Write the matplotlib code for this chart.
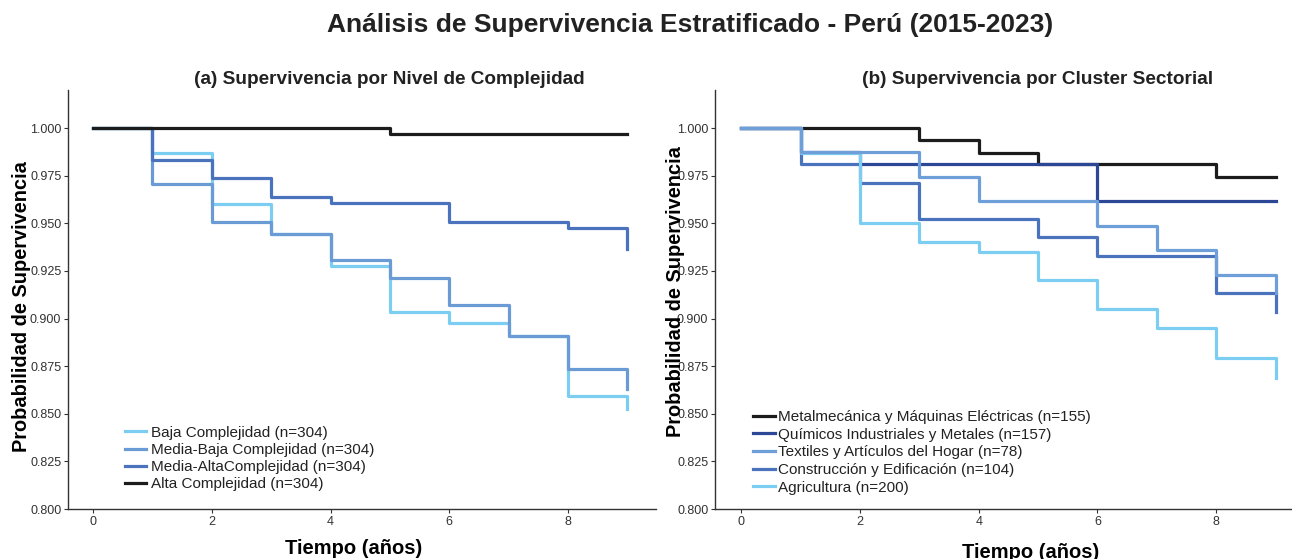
import matplotlib
matplotlib.use("Agg")
import matplotlib.pyplot as plt

plt.rcParams['font.family'] = ['Liberation Sans', 'DejaVu Sans']
plt.rcParams['text.color'] = '#222222'

# (a) complejidad: tiempos de evento y supervivencia (step post)
comp_labels = ['Baja Complejidad (n=304)', 'Media-Baja Complejidad (n=304)',
               'Media-AltaComplejidad (n=304)', 'Alta Complejidad (n=304)']
comp_colors = ['#7ccdf2', '#6b9bd5', '#4a72bd', '#1c1c1c']
comp_t = [
    [0, 1, 2, 3, 4, 5, 6, 7, 8, 9],
    [0, 1, 2, 3, 4, 5, 6, 7, 8, 9],
    [0, 1, 2, 3, 4, 6, 8, 9],
    [0, 5, 9],
]
comp_s = [
    [1.000, 0.987, 0.9603, 0.9443, 0.9278, 0.9035, 0.8974, 0.8908, 0.8594, 0.8524],
    [1.000, 0.9706, 0.9506, 0.9443, 0.9308, 0.9212, 0.9073, 0.8908, 0.8733, 0.8628],
    [1.000, 0.9835, 0.9736, 0.9638, 0.9607, 0.9508, 0.9478, 0.9365],
    [1.000, 0.9967, 0.9967],
]

# (b) cluster sectorial
clus_labels = ['Metalmecánica y Máquinas Eléctricas (n=155)',
               'Químicos Industriales y Metales (n=157)',
               'Textiles y Artículos del Hogar (n=78)',
               'Construcción y Edificación (n=104)',
               'Agricultura (n=200)']
clus_colors = ['#1c1c1c', '#2c4796', '#6f9fd8', '#4a72bd', '#7ccdf2']
clus_t = [
    [0, 3, 4, 5, 8, 9],
    [0, 1, 2, 6, 9],
    [0, 1, 3, 4, 6, 7, 8, 9],
    [0, 1, 2, 3, 5, 6, 8, 9],
    [0, 1, 2, 3, 4, 5, 6, 7, 8, 9],
]
clus_s = [
    [1.000, 0.9935, 0.9871, 0.9810, 0.9742, 0.9742],
    [1.000, 0.9873, 0.9809, 0.9617, 0.9617],
    [1.000, 0.9872, 0.9744, 0.9615, 0.9487, 0.9359, 0.9231, 0.9135],
    [1.000, 0.9809, 0.9711, 0.9523, 0.9426, 0.9330, 0.9133, 0.9035],
    [1.000, 0.987, 0.950, 0.940, 0.935, 0.920, 0.905, 0.895, 0.8795, 0.869],
]
clus_z = [2, 3, 6, 4, 5]

W, H = 1292, 559
fig = plt.figure(figsize=(W / 100, H / 100), dpi=100)

def px(x0, y_top, w, h):
    return [x0 / W, (H - y_top - h) / H, w / W, h / H]

ax1 = fig.add_axes(px(68, 90, 588, 419))
ax2 = fig.add_axes(px(715, 90, 588, 419))


def style(ax, xmin):
    ax.set_xlim(xmin, xmin + 9.9)
    ax.set_ylim(0.8, 1.02)
    ax.set_xticks([0, 2, 4, 6, 8])
    ax.set_yticks([0.800, 0.825, 0.850, 0.875, 0.900, 0.925, 0.950, 0.975, 1.000])
    ax.yaxis.set_major_formatter(matplotlib.ticker.FormatStrFormatter('%.3f'))
    for s in ['top', 'right']:
        ax.spines[s].set_visible(False)
    for s in ['left', 'bottom']:
        ax.spines[s].set_color('#333333')
        ax.spines[s].set_linewidth(1.0)
    ax.tick_params(labelsize=9, colors='#333333', length=3, width=0.8, pad=1.8)


for t, s, c, lab in zip(comp_t, comp_s, comp_colors, comp_labels):
    ax1.step(t, s, where='post', color=c, lw=2.3, label=lab)
style(ax1, -0.42)
ax1.set_title('(a) Supervivencia por Nivel de Complejidad', fontsize=13.7, fontweight='bold',
              x=0.546, pad=4.5)
ax1.set_xlabel('Tiempo (años)', fontsize=14.5, fontweight='bold')
ax1.xaxis.set_label_coords(0.486, -0.072)
ax1.set_ylabel('Probabilidad de Supervivencia', fontsize=14.4, fontweight='bold')
ax1.yaxis.set_label_coords(-0.063, 0.482)
ax1.legend(loc='lower left', bbox_to_anchor=(0.097, 0.043), frameon=False, fontsize=11,
           borderpad=0, borderaxespad=0, labelspacing=0.2, handlelength=1.4,
           handletextpad=0.3)

for t, s, c, lab, z in zip(clus_t, clus_s, clus_colors, clus_labels, clus_z):
    ax2.step(t, s, where='post', color=c, lw=2.3, label=lab, zorder=z)
style(ax2, -0.44)
ax2.set_title('(b) Supervivencia por Cluster Sectorial', fontsize=13.7, fontweight='bold',
              x=0.548, pad=4.5)
ax2.set_xlabel('Tiempo (años)', fontsize=14.5, fontweight='bold')
ax2.xaxis.set_label_coords(0.537, -0.080)
ax2.set_ylabel('Probabilidad de Supervivencia', fontsize=14.4, fontweight='bold')
ax2.yaxis.set_label_coords(-0.051, 0.518)
ax2.legend(loc='lower left', bbox_to_anchor=(0.065, 0.034), frameon=False, fontsize=11,
           borderpad=0, borderaxespad=0, labelspacing=0.24, handlelength=1.4,
           handletextpad=0.25)

fig.suptitle('Análisis de Supervivencia Estratificado - Perú (2015-2023)', fontsize=19,
             fontweight='bold', x=690 / W, y=1 - 25 / H, va='center')

fig.savefig('out.png', dpi=100)
